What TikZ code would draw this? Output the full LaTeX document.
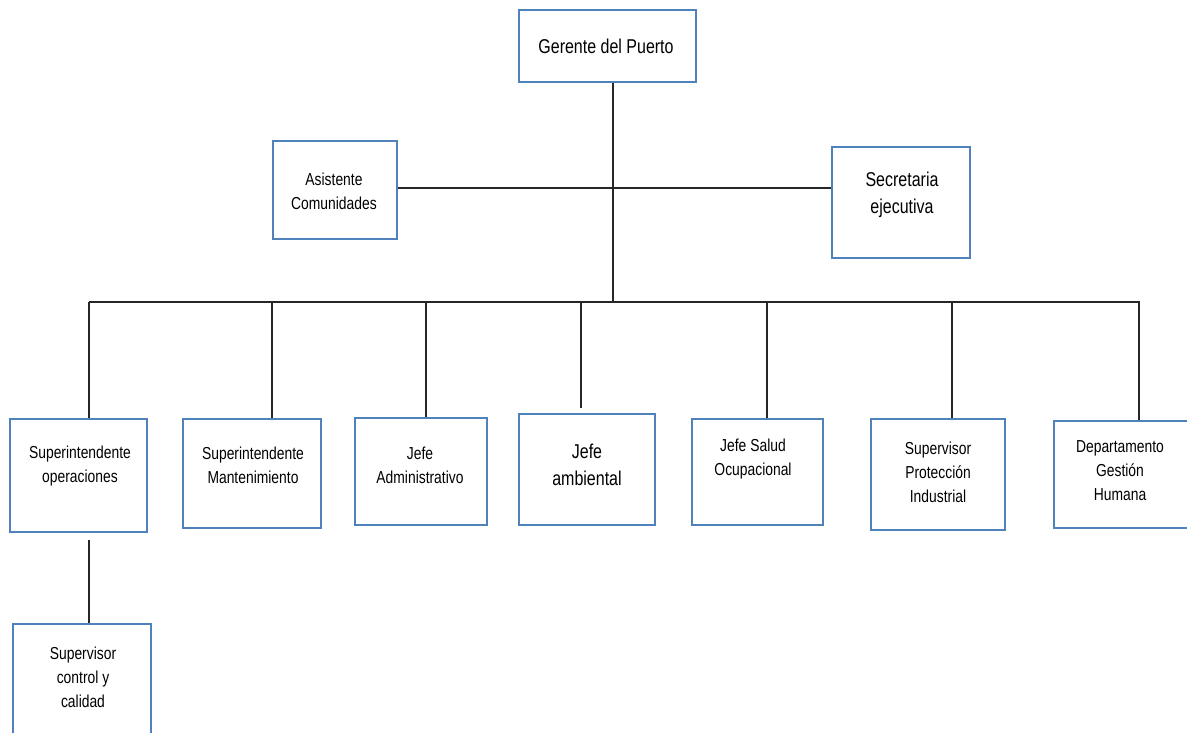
\documentclass[tikz,border=0pt]{standalone}
\usepackage{fontspec}
\setmainfont{Liberation Sans}[FakeStretch=0.8]
\begin{document}
\begin{tikzpicture}[x=0.75pt,y=-0.75pt,
  box/.style={draw=boxblue, line width=1.6pt, fill=white, inner sep=0pt, anchor=north west},
  txt/.style={align=center, font=\fontsize{13}{18}\selectfont, inner sep=0pt},
  bigtxt/.style={align=center, font=\fontsize{15}{20}\selectfont, inner sep=0pt},
  conn/.style={draw=black!85, line width=0.95pt}]
\definecolor{boxblue}{HTML}{4F81BD}
\useasboundingbox (0,0) rectangle (1187,732);
\fill[white] (0,0) rectangle (1187,732);
\newcommand{\mybox}[5]{\node[box, minimum width=#4*0.75pt, minimum height=#5*0.75pt] (#1) at (#2,#3) {};}
\coordinate (busL) at (89,302);
\coordinate (busR) at (1140,302);
\coordinate (busM) at (613,302);
\mybox{ger}{518}{9}{177}{72}
\mybox{asi}{272}{140}{124}{98}
\mybox{sec}{831}{146}{138}{111}
\mybox{b1}{9}{418}{137}{113}
\mybox{b2}{182}{418}{138}{109}
\mybox{b3}{354}{417}{132}{107}
\mybox{b4}{518}{413}{136}{111}
\mybox{b5}{691}{418}{131}{106}
\mybox{b6}{870}{418}{134}{111}
\mybox{b7}{1053}{420}{134}{107}
\mybox{b8}{12}{623}{138}{125}
\draw[conn] (ger.south -| busM) -- (busM);
\draw[conn] (asi.east) ++(0,-2) coordinate (asiE) -- (asiE -| sec.west);
\draw[conn] (busL) -- (busR);
\draw[conn] (busL) -- (busL |- b1.north);
\draw[conn] (b2.north -| 272,0) coordinate (c2) (c2 |- busL) -- (c2);
\draw[conn] (b3.north -| 426,0) coordinate (c3) (c3 |- busL) -- (c3);
\draw[conn] (b4.north -| 581,0) ++(0,-5) coordinate (c4) (c4 |- busL) -- (c4);
\draw[conn] (b5.north -| 767,0) coordinate (c5) (c5 |- busL) -- (c5);
\draw[conn] (b6.north -| 952,0) coordinate (c6) (c6 |- busL) -- (c6);
\draw[conn] (b7.north -| 1139,0) coordinate (c7) (c7 |- busR) -- (c7);
\draw[conn] (b1.south -| 89,0) ++(0,7) coordinate (c8) -- (c8 |- b8.north);
% texts
\node[bigtxt] (tger) at (606,46) {Gerente del Puerto};
\node[txt] (tasi) at (334,191) {Asistente\\Comunidades};
\node[bigtxt] (tsec) at (902,195) {Secretaria\\ejecutiva};
\node[txt] (t1) at (80,466) {Superintendente\\operaciones};
\node[txt] (t2) at (253,465) {Superintendente\\Mantenimiento};
\node[txt] (t3) at (420,465) {Jefe\\Administrativo};
\node[bigtxt] (t4) at (587,465) {Jefe\\ambiental};
\node[txt] (t5) at (753,459) {Jefe Salud\\Ocupacional};
\node[txt] (t6) at (938,472) {Supervisor\\Protección\\Industrial};
\node[txt] (t7) at (1120,471) {Departamento\\Gestión\\Humana};
\node[txt] (t8) at (83,677) {Supervisor\\control y\\calidad};
\end{tikzpicture}
\end{document}
